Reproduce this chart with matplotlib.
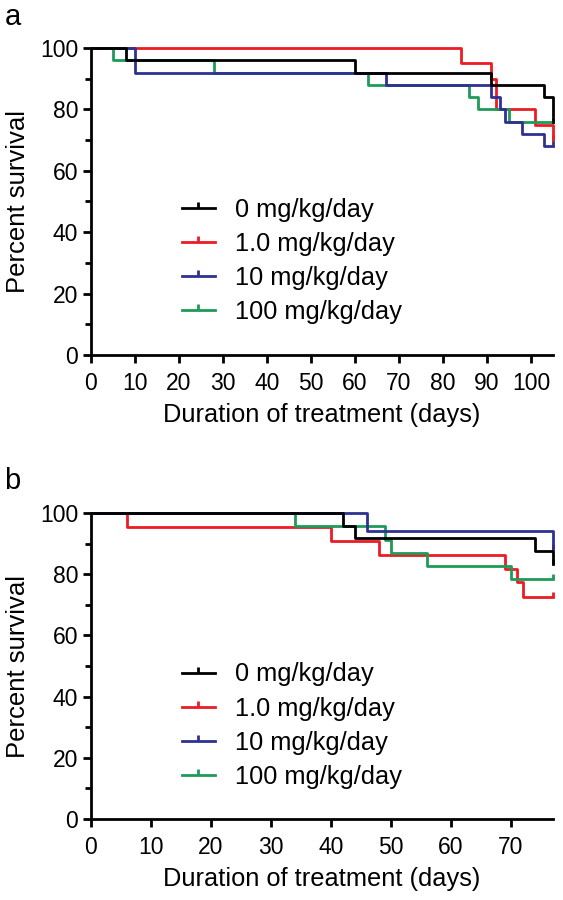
import numpy as np
import matplotlib
matplotlib.use("Agg")
import matplotlib.pyplot as plt
from matplotlib.path import Path

plt.rcParams['font.family'] = ['Liberation Sans', 'DejaVu Sans']

groups = ["0 mg/kg/day", "1.0 mg/kg/day", "10 mg/kg/day", "100 mg/kg/day"]
colors = ["#000000", "#ed1c24", "#2e3192", "#1e9b58"]

# panel a: step times (days) and percent survival after each step
end_a = 105
a_times = [
    [0, 8, 60, 91, 103, 105],
    [0, 84, 91, 92, 101, 105],
    [0, 10, 67, 91, 93, 94, 98, 103],
    [0, 5, 28, 63, 86, 88, 95],
]
a_surv = [
    [100, 96, 92, 88, 84, 76],
    [100, 95, 90, 80, 75, 70],
    [100, 92, 88, 84, 80, 76, 72, 68],
    [100, 96, 92, 88, 84, 80, 76],
]
a_xticks = [0, 10, 20, 30, 40, 50, 60, 70, 80, 90, 100]

# panel b
end_b = 77
b_times = [
    [0, 42, 44, 74, 77],
    [0, 6, 40, 48, 69, 71, 72],
    [0, 46, 77],
    [0, 34, 49, 50, 56, 70],
]
b_surv = [
    [100, 95.8, 91.7, 87.5, 83.3],
    [100, 95.5, 90.9, 86.4, 81.8, 77.3, 72.7],
    [100, 94.1, 88.2],
    [100, 95.7, 91.3, 87.0, 82.6, 78.3],
]
b_xticks = [0, 10, 20, 30, 40, 50, 60, 70]

# upward censor tick
tick_mark = Path([(0, 0), (0, 1)], [Path.MOVETO, Path.LINETO])

W, H = 563, 900
fig = plt.figure(figsize=(W / 100, H / 100), dpi=100)


def panel(rect, times, surv, end, xticks, letter, letter_y, leg_y):
    ax = fig.add_axes(rect)
    order = [1, 3, 2, 0]  # black drawn last
    handles = {}
    for i in order:
        t = list(times[i]) + [end]
        s = list(surv[i]) + [surv[i][-1]]
        ax.step(t, s, where='post', color=colors[i], lw=2.0,
                clip_on=False, zorder=3 + (i == 0))
        ax.plot([end], [surv[i][-1]], ls='none', marker=tick_mark,
                ms=7, mew=2.0, color=colors[i], clip_on=False, zorder=5)
        h, = ax.plot([], [], color=colors[i], lw=2.0, marker=tick_mark,
                     ms=8.5, mew=2.0)
        handles[i] = h
    ax.set_xlim(0, end)
    ax.set_ylim(0, 100)
    ax.set_xticks(xticks)
    ax.set_yticks([0, 20, 40, 60, 80, 100])
    ax.set_yticks([10, 30, 50, 70, 90], minor=True)
    for side in ['top', 'right']:
        ax.spines[side].set_visible(False)
    for side in ['left', 'bottom']:
        ax.spines[side].set_linewidth(2.0)
    ax.tick_params(which='major', length=6, width=2.0, labelsize=16.5, pad=3)
    ax.tick_params(axis='x', which='major', pad=6)
    ax.tick_params(which='minor', length=4, width=2.0)
    ax.set_xlabel("Duration of treatment (days)", fontsize=18.3, labelpad=6)
    ax.set_ylabel("Percent survival", fontsize=18.5, labelpad=7)
    ax.legend([handles[i] for i in range(4)], groups, loc='upper left',
              bbox_to_anchor=(0.175, leg_y), frameon=False, fontsize=18.3,
              handlelength=1.3, handletextpad=0.8, labelspacing=0.4,
              numpoints=1, borderaxespad=0)
    fig.text(0.008, letter_y, letter, fontsize=21, va='top', ha='left')
    return ax


panel([90.7 / W, 1 - 355 / H, (553 - 90.7) / W, 307 / H],
      a_times, a_surv, end_a, a_xticks, "a", 0.997, 0.545)
panel([90.7 / W, 1 - 819 / H, (553 - 90.7) / W, 306 / H],
      b_times, b_surv, end_b, b_xticks, "b", 0.481, 0.545)

fig.savefig("out.png", dpi=100)
